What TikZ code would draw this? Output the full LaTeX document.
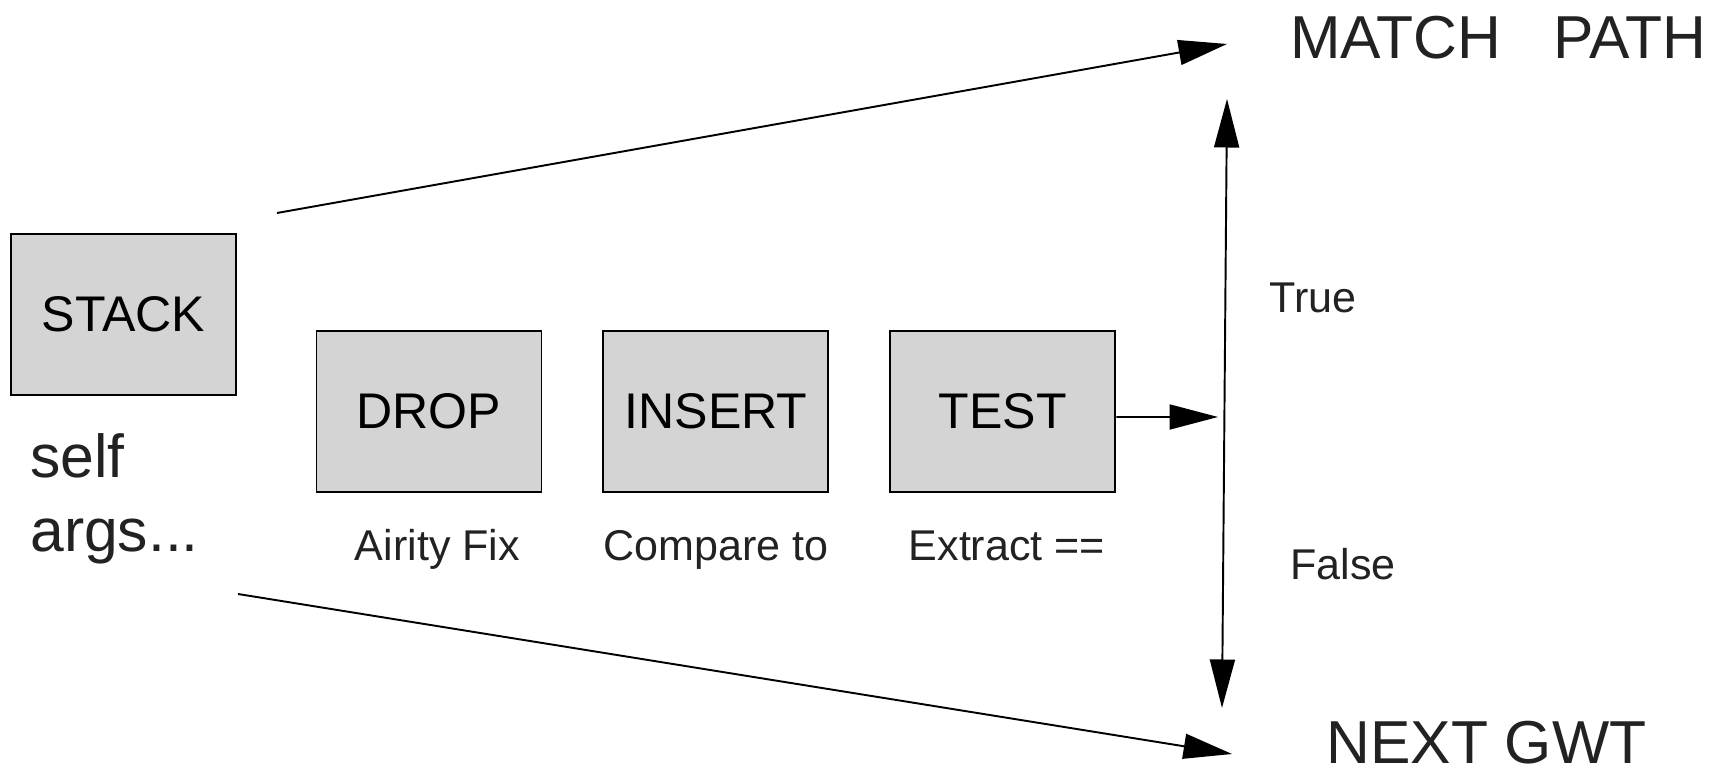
\documentclass[tikz,border=0pt]{standalone}
\usepackage{fontspec}
\setmainfont{Liberation Sans}
\usetikzlibrary{positioning,arrows.meta}
\definecolor{boxgray}{HTML}{D4D4D4}
\definecolor{inkgray}{HTML}{222222}

\begin{document}
\begin{tikzpicture}[>={Triangle[length=0.97cm,width=0.5cm]},
    opbox/.style={draw=black,fill=boxgray,line width=1.1pt,minimum width=4.5cm,minimum height=3.22cm,inner sep=0pt,font=\fontsize{28.5}{34}\selectfont},
    sublbl/.style={inner sep=0pt,text=inkgray,font=\fontsize{24.5}{29}\selectfont},
    bigtxt/.style={inner sep=0pt,text=inkgray,font=\fontsize{34.5}{41}\selectfont},
    flow/.style={line width=1.1pt}]
    \useasboundingbox (0,0) rectangle (34.42,15.5);
    \node[opbox] (stack) at (2.47,9.21) {STACK};
    \node[bigtxt,anchor=base west] (self) at (0.6,5.94) {self};
    \node[bigtxt,below=1.48cm of self.base west,anchor=base west] (args) {args...};
    \node[opbox] (drop) at (8.58,7.27) {DROP};
    \node[opbox,right=1.2cm of drop] (insert) {INSERT};
    \node[opbox,right=1.2cm of insert] (test) {TEST};
    \node[sublbl,below=1.36cm of drop,xshift=0.17cm,anchor=base] (fix) {Airity Fix};
    \node[sublbl,below=1.36cm of insert,anchor=base] (cmp) {Compare to};
    \node[sublbl,below=1.36cm of test,xshift=0.08cm,anchor=base] (ext) {Extract ==};
    \node[bigtxt,anchor=base west] (match) at (25.8,14.32) {MATCH\hspace{1.05cm}PATH};
    \node[bigtxt,anchor=base west] (next) at (26.52,0.24) {NEXT GWT};
    \node[sublbl,anchor=base west] (truelbl) at (25.38,9.24) {True};
    \node[sublbl,anchor=base west] (falselbl) at (25.8,3.92) {False};
    \coordinate (upfrom) at (5.54,11.24);
    \coordinate (upto) at (24.54,14.62);
    \coordinate (lowfrom) at (4.76,3.62);
    \coordinate (lowto) at (24.64,0.42);
    \coordinate (vtop) at (24.54,13.52);
    \coordinate (vbot) at (24.44,1.34);
    \coordinate (testtip) at (24.36,7.16);
    \draw[flow,->] (upfrom) -- (upto);
    \draw[flow,->] (lowfrom) -- (lowto);
    \draw[flow,<->] (vtop) -- (vbot);
    \draw[flow,->] ([yshift=-0.11cm]test.east) -- (testtip);
\end{tikzpicture}
\end{document}
